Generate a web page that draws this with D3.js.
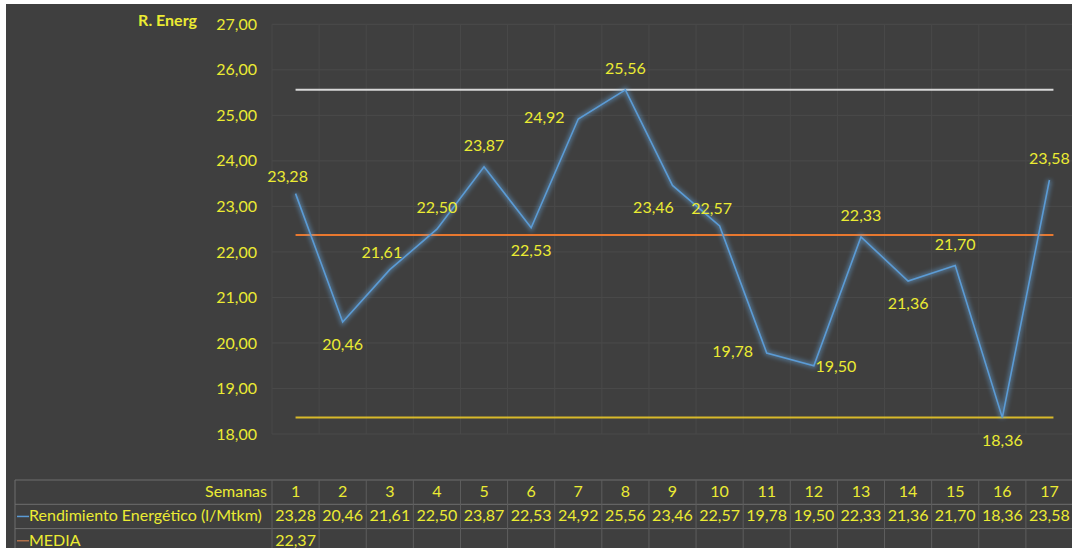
<!DOCTYPE html>
<html><head><meta charset="utf-8">
<script src="https://cdn.jsdelivr.net/npm/d3@7"></script>
<style>html,body{margin:0;padding:0;background:#fff;}svg{display:block;}</style>
</head><body>
<script>
// ---- data ----
const weeks = [1,2,3,4,5,6,7,8,9,10,11,12,13,14,15,16,17];
const rendimiento = [23.28,20.46,21.61,22.50,23.87,22.53,24.92,25.56,23.46,22.57,19.78,19.50,22.33,21.36,21.70,18.36,23.58];
const media = 22.37;
const limiteSuperior = 25.56;
const limiteInferior = 18.36;
const yTicks = [18,19,20,21,22,23,24,25,26,27];
const seriesNames = ["Rendimiento Energético (l/Mtkm)", "MEDIA"];
const axisTitle = "R. Energ";
const tableHeader = "Semanas";
// label placement per point (style)
const labelPos = ["al","b","al","a","a","b","l","a","bl","al","l","r","a","b","a","b","a"];

const W = 1072, H = 548;
const fmt = v => d3.format(".2f")(v).replace(".", ",");
const TXT = "#ebeb33";
const FONT = "Lato, 'Open Sans', sans-serif";
const FS = 16;

const svg = d3.select("body").append("svg").attr("width", W).attr("height", H);
const defs = svg.append("defs");
const glow = defs.append("filter").attr("id","glow").attr("x","-10%").attr("y","-10%").attr("width","120%").attr("height","120%");
glow.append("feGaussianBlur").attr("stdDeviation", 2.2);

svg.append("rect").attr("width", W).attr("height", H).attr("fill", "#ffffff");
svg.append("rect").attr("x", 6).attr("y", 4).attr("width", W-6).attr("height", H-4).attr("fill", "#3f3f3f");

const x = d3.scaleBand().domain(weeks).range([272, 1073]).padding(0);
const cx = d => x(d) + x.bandwidth()/2;
const y = d3.scaleLinear().domain([18, 27]).range([434, 24.3]);

// gridlines
const grid = svg.append("g");
grid.selectAll("line.h").data(yTicks).join("line")
  .attr("x1", 272).attr("x2", 1073).attr("y1", d => y(d)).attr("y2", d => y(d))
  .attr("stroke", "#4b4b4b").attr("stroke-width", 1);
grid.selectAll("line.v").data(weeks).join("line")
  .attr("x1", d => x(d)).attr("x2", d => x(d)).attr("y1", y(27)).attr("y2", y(18))
  .attr("stroke", "#494949").attr("stroke-width", 1);

// y axis
const yAxis = d3.axisLeft(y).tickValues(yTicks).tickFormat(fmt).tickSize(0).tickPadding(0);
const ya = svg.append("g").attr("transform", "translate(257,0)").call(yAxis);
ya.select(".domain").remove();
ya.selectAll("text").attr("fill", TXT).attr("font-family", FONT).attr("font-size", FS);

svg.append("text").attr("x", 197).attr("y", 22).attr("text-anchor", "end").attr("dominant-baseline","middle")
  .attr("fill", TXT).attr("font-family", FONT).attr("font-size", FS).attr("font-weight", "bold").text(axisTitle);

// control lines
const x0 = cx(weeks[0]), x1 = cx(weeks[weeks.length-1]) + 4;
const hlines = [
  {v: limiteSuperior, c: "#d8d8d8", g: "#ffffff"},
  {v: media, c: "#e8782f", g: "#ff8c40"},
  {v: limiteInferior, c: "#d8b92a", g: "#ffd030"}
];
hlines.forEach(h => {
  svg.append("line").attr("x1", x0).attr("x2", x1).attr("y1", y(h.v)).attr("y2", y(h.v))
    .attr("stroke", h.g).attr("stroke-width", 5).attr("opacity", 0.35).attr("filter", "url(#glow)");
  svg.append("line").attr("x1", x0).attr("x2", x1).attr("y1", y(h.v)).attr("y2", y(h.v))
    .attr("stroke", h.c).attr("stroke-width", 2);
});

// series line
const line = d3.line().x((d,i) => cx(weeks[i])).y(d => y(d));
svg.append("path").datum(rendimiento).attr("d", line).attr("fill","none")
  .attr("stroke", "#6aaee8").attr("stroke-width", 5).attr("opacity", 0.45).attr("filter","url(#glow)");
svg.append("path").datum(rendimiento).attr("d", line).attr("fill","none")
  .attr("stroke", "#5b9bd5").attr("stroke-width", 1.6);

// data labels
const off = {
  a: [0, -20], b: [0, 24], l: [-34, 0], r: [22, 2], al: [-8, -16], bl: [-19, 24]
};
svg.append("g").selectAll("text").data(rendimiento).join("text")
  .attr("x", (d,i) => cx(weeks[i]) + off[labelPos[i]][0])
  .attr("y", (d,i) => y(d) + off[labelPos[i]][1])
  .attr("text-anchor", "middle").attr("dominant-baseline", "middle")
  .attr("fill", TXT).attr("font-family", FONT).attr("font-size", FS)
  .text(d => fmt(d));

// data table
const tTop = 480, rowH = 24.3, tLeft = 15, tRight = 1073;
const tg = svg.append("g");
const rowsY = [tTop, tTop + rowH, tTop + 2*rowH, tTop + 3*rowH];
tg.selectAll("line.r").data(rowsY).join("line")
  .attr("x1", tLeft).attr("x2", tRight).attr("y1", d => d).attr("y2", d => d)
  .attr("stroke", "#6e6e6e").attr("stroke-width", 1);
tg.append("line").attr("x1", tLeft).attr("x2", tLeft).attr("y1", tTop).attr("y2", H).attr("stroke", "#6e6e6e");
tg.selectAll("line.c").data(weeks).join("line")
  .attr("x1", d => x(d)).attr("x2", d => x(d)).attr("y1", tTop).attr("y2", H)
  .attr("stroke", "#5e5e5e").attr("stroke-width", 1);

const cellText = (sel) => sel.attr("fill", TXT).attr("font-family", FONT).attr("font-size", FS).attr("dominant-baseline", "middle");
cellText(tg.append("text").attr("x", 267).attr("y", tTop + rowH/2 + 1).attr("text-anchor", "end").text(tableHeader));
cellText(tg.append("g").selectAll("text").data(weeks).join("text")
  .attr("x", d => cx(d)).attr("y", tTop + rowH/2 + 1).attr("text-anchor", "middle").text(d => d));
cellText(tg.append("g").selectAll("text").data(rendimiento).join("text")
  .attr("x", (d,i) => cx(weeks[i])).attr("y", tTop + 1.5*rowH + 1).attr("text-anchor", "middle").text(d => fmt(d)));
cellText(tg.append("text").attr("x", cx(weeks[0])).attr("y", tTop + 2.5*rowH + 1).attr("text-anchor", "middle").text(fmt(media)));

// legend keys in table
tg.append("line").attr("x1", 17).attr("x2", 29).attr("y1", tTop + 1.5*rowH).attr("y2", tTop + 1.5*rowH).attr("stroke", "#5b9bd5").attr("stroke-width", 1.5);
tg.append("line").attr("x1", 17).attr("x2", 29).attr("y1", tTop + 2.5*rowH).attr("y2", tTop + 2.5*rowH).attr("stroke", "#b0704a").attr("stroke-width", 1.5);
cellText(tg.append("text").attr("x", 29).attr("y", tTop + 1.5*rowH + 1).attr("text-anchor", "start").text(seriesNames[0]));
cellText(tg.append("text").attr("x", 29).attr("y", tTop + 2.5*rowH + 1).attr("text-anchor", "start").text(seriesNames[1]));
</script>
</body></html>
